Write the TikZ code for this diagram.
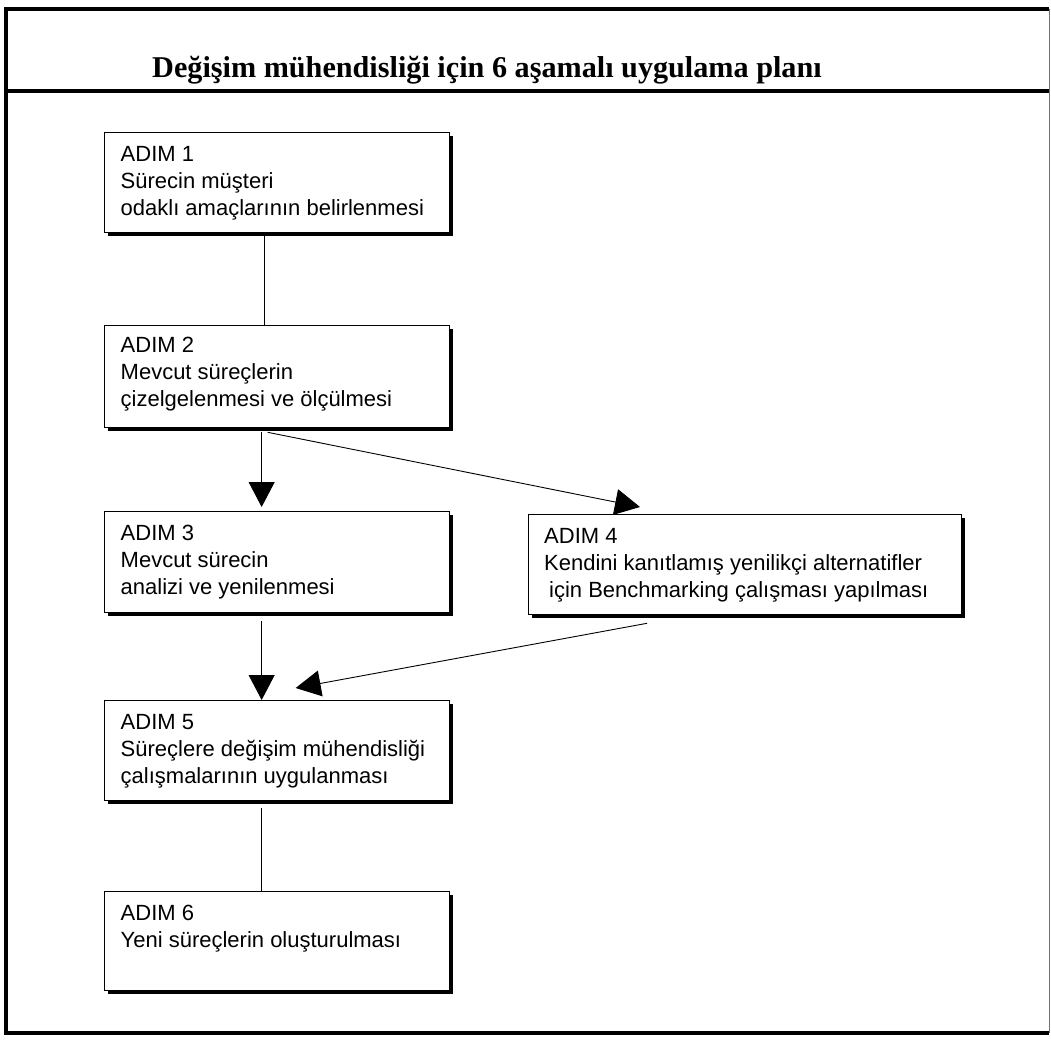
\documentclass[tikz,border=0pt]{standalone}
\usepackage{fontspec}
\setmainfont{Liberation Sans}
\newfontfamily\titlefont{Liberation Serif}
\usetikzlibrary{arrows.meta,shadows}
\begin{document}
\begin{tikzpicture}[x=1pt,y=-1pt,
  stepbox/.style={draw=black, line width=1.3pt, fill=white, minimum width=345pt,
    minimum height=100pt, anchor=north west, inner sep=0pt,
    drop shadow={shadow xshift=3.5pt, shadow yshift=-3.5pt, fill=black, opacity=1}},
  steptext/.style={anchor=north west, align=left, inner sep=0pt,
    font=\fontsize{22}{27}\selectfont},
  link/.style={line width=0.9pt},
  arrowlink/.style={line width=0.9pt, -{Triangle[length=25pt,width=26pt]}},
  frameline/.style={line width=4pt},
]
\useasboundingbox (0,0) rectangle (1051,1040);
\fill[white] (0,0) rectangle (1051,1040);
% outer frame and title rule
\draw[frameline] (1049,9) -- (6,9) -- (6,1033) -- (1049,1033);
\draw[line width=1pt, black!55] (1049,9) -- (1049,1033);
\draw[frameline] (6,91) -- (1049,91);
% title
\node[anchor=base west, inner sep=0pt,
  font=\titlefont\bfseries\fontsize{30.2}{31}\selectfont] (title) at (152,78)
  {Değişim mühendisliği için 6 aşamalı uygulama planı};
% boxes
\node[stepbox] (b1) at (103.5,132) {};
\node[stepbox, minimum height=102pt] (b2) at (103.5,325) {};
\node[stepbox, minimum height=101pt] (b3) at (103.5,511) {};
\node[stepbox, minimum width=433pt] (b4) at (528,514) {};
\node[stepbox] (b5) at (103.5,700) {};
\node[stepbox, minimum height=99pt] (b6) at (103.5,891) {};
% texts
\node[steptext] (t1) at ([xshift=17pt,yshift=-14pt]b1.north west)
  {ADIM 1\\Sürecin müşteri\\odaklı amaçlarının belirlenmesi};
\node[steptext] (t2) at ([xshift=17pt,yshift=-12pt]b2.north west)
  {ADIM 2\\Mevcut süreçlerin\\çizelgelenmesi ve ölçülmesi};
\node[steptext] (t3) at ([xshift=17pt,yshift=-13.5pt]b3.north west)
  {ADIM 3\\Mevcut sürecin\\analizi ve yenilenmesi};
\node[steptext] (t4) at ([xshift=16pt,yshift=-14pt]b4.north west)
  {ADIM 4\\Kendini kanıtlamış yenilikçi alternatifler\\\hspace*{5pt}için Benchmarking çalışması yapılması};
\node[steptext] (t5) at ([xshift=17pt,yshift=-14pt]b5.north west)
  {ADIM 5\\Süreçlere değişim mühendisliği\\çalışmalarının uygulanması};
\node[steptext] (t6) at ([xshift=17pt,yshift=-13.5pt]b6.north west)
  {ADIM 6\\Yeni süreçlerin oluşturulması};
% connectors
\draw[link] ([xshift=-12pt]b1.south) -- ([xshift=-12pt]b2.north);
\draw[arrowlink] ([xshift=-15pt,yshift=-4pt]b2.south) -- ([xshift=-15pt,yshift=4pt]b3.north);
\draw[arrowlink] ([xshift=-9pt,yshift=-4pt]b2.south) -- ([xshift=112pt,yshift=7pt]b4.north west);
\draw[arrowlink] ([xshift=-15pt,yshift=-8pt]b3.south) -- ([xshift=-15pt]b5.north);
\draw[arrowlink] ([xshift=119pt,yshift=-8pt]b4.south west) -- ([xshift=19pt,yshift=12pt]b5.north);
\draw[link] ([xshift=-15pt,yshift=-7pt]b5.south) -- ([xshift=-15pt]b6.north);
\end{tikzpicture}
\end{document}
